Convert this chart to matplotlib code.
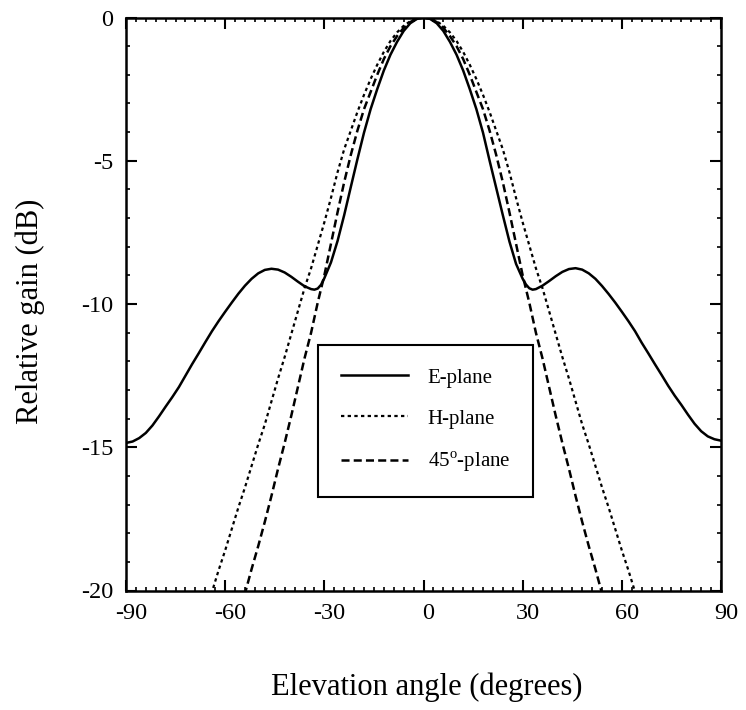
import matplotlib
matplotlib.use("Agg")
import matplotlib.pyplot as plt
import matplotlib.transforms as mtransforms
from matplotlib.ticker import MultipleLocator

plt.rcParams['font.family'] = ['Liberation Serif', 'DejaVu Serif']
plt.rcParams['mathtext.fontset'] = 'custom'
plt.rcParams['mathtext.rm'] = 'Liberation Serif'
plt.rcParams['axes.unicode_minus'] = False
plt.rcParams['lines.scale_dashes'] = False

# ---- data ----
e_angle = [-90, -88, -86, -84, -82, -80, -78, -76, -74, -72, -70, -68, -66, -64, -62, -60,
           -58, -56, -54, -52, -50, -48, -46, -44, -42, -40, -38, -36, -34, -33, -32, -31,
           -30, -28, -26, -24, -22, -20, -18, -16, -14, -12, -10, -8, -6, -4, -2, 0,
           2, 4, 6, 8, 10, 12, 14, 16, 18, 20, 22, 24, 26, 28, 30, 31, 32, 33, 34, 36,
           38, 40, 42, 44, 46, 48, 50, 52, 54, 56, 58, 60, 62, 64, 66, 68, 70, 72, 74,
           76, 78, 80, 82, 84, 86, 88, 90]
e_gain = [-14.85, -14.80, -14.68, -14.50, -14.24, -13.92, -13.58, -13.25, -12.90, -12.50,
          -12.10, -11.72, -11.33, -10.95, -10.60, -10.27, -9.95, -9.64, -9.36, -9.12,
          -8.93, -8.81, -8.77, -8.80, -8.90, -9.05, -9.22, -9.38, -9.48, -9.50, -9.46,
          -9.33, -9.10, -8.55, -7.80, -6.90, -5.92, -4.95, -4.02, -3.20, -2.50, -1.85,
          -1.30, -0.85, -0.47, -0.20, -0.05, 0.0,
          -0.05, -0.20, -0.47, -0.85, -1.30, -1.85, -2.50, -3.20, -4.02, -5.00, -5.95,
          -6.90, -7.82, -8.60, -9.12, -9.32, -9.45, -9.50, -9.48, -9.36, -9.20, -9.03,
          -8.88, -8.78, -8.75, -8.80, -8.93, -9.12, -9.37, -9.65, -9.95, -10.27, -10.60,
          -10.95, -11.35, -11.72, -12.10, -12.47, -12.85, -13.20, -13.52, -13.86, -14.18,
          -14.44, -14.62, -14.72, -14.77]

h_angle = [-66, -64, -62, -60, -58, -56, -54, -52, -50, -48, -46, -44, -42, -40, -38, -36,
           -34, -32, -30, -28, -26, -24, -22, -20, -18, -16, -14, -12, -10, -8, -6, -4,
           -2, 0, 2, 4, 6, 8, 10, 12, 14, 16, 18, 20, 22, 24, 26, 28, 30, 32, 34, 36,
           38, 40, 42, 44, 46, 48, 50, 52, 54, 56, 58, 60, 62, 64, 66]
h_gain = [-20.80, -20.05, -19.30, -18.60, -17.85, -17.10, -16.40, -15.65, -14.90, -14.20,
          -13.40, -12.60, -11.85, -11.05, -10.25, -9.45, -8.75, -7.95, -7.15, -6.30,
          -5.40, -4.60, -3.95, -3.30, -2.70, -2.15, -1.65, -1.20, -0.82, -0.52, -0.29,
          -0.13, -0.03, 0.0, -0.03, -0.13, -0.29, -0.52, -0.82, -1.20, -1.65, -2.15,
          -2.70, -3.30, -3.95, -4.60, -5.40, -6.30, -7.15, -7.95, -8.75, -9.45, -10.25,
          -11.05, -11.85, -12.60, -13.40, -14.20, -14.90, -15.65, -16.40, -17.10, -17.85,
          -18.60, -19.30, -20.05, -20.80]

d_angle = [-56, -54, -52, -50, -48, -46, -44, -42, -40, -38, -36, -34, -32, -30, -28, -26,
           -24, -22, -20, -18, -16, -14, -12, -10, -8, -6, -4, -2, 0, 2, 4, 6, 8, 10, 12,
           14, 16, 18, 20, 22, 24, 26, 28, 30, 32, 34, 36, 38, 40, 42, 44, 46, 48, 50,
           52, 54, 56]
d_gain = [-21.00, -20.10, -19.25, -18.45, -17.60, -16.70, -15.75, -14.85, -13.90, -12.90,
          -11.90, -11.00, -9.95, -9.00, -7.90, -6.80, -5.75, -4.80, -3.95, -3.20, -2.60,
          -2.00, -1.45, -1.00, -0.65, -0.36, -0.16, -0.04, 0.0, -0.04, -0.16, -0.36,
          -0.65, -1.00, -1.45, -2.00, -2.60, -3.20, -3.95, -4.80, -5.75, -6.80, -7.90,
          -9.00, -9.95, -11.00, -11.90, -12.90, -13.90, -14.85, -15.75, -16.70, -17.60,
          -18.45, -19.25, -20.10, -21.00]

labels = ['E-plane', 'H-plane', r'45$^{\rm o}$-plane']
x_ticks = [-90, -60, -30, 0, 30, 60, 90]
y_ticks = [0, -5, -10, -15, -20]

# ---- figure ----
fig = plt.figure(figsize=(7.46, 7.10), dpi=100)
ax = fig.add_axes([126 / 746, (710 - 590.5) / 710, 595 / 746, 573 / 710])

ax.plot(e_angle, e_gain, color='black', lw=1.8, ls='-', label=labels[0])
ax.plot(h_angle, h_gain, color='black', lw=1.6, ls=(0, (2.4, 2.4)), label=labels[1])
ax.plot(d_angle, d_gain, color='black', lw=1.8, ls=(0, (5.8, 3.0)), label=labels[2])

ax.set_xlim(-90, 90)
ax.set_ylim(-20, 0)
ax.set_xticks(x_ticks)
ax.set_yticks(y_ticks)
ax.set_xticklabels([str(v) for v in x_ticks])
ax.set_yticklabels([str(v) for v in y_ticks])
ax.xaxis.set_minor_locator(MultipleLocator(3))
ax.yaxis.set_minor_locator(MultipleLocator(1))

ax.tick_params(which='both', direction='in', top=True, right=True, color='black')
ax.tick_params(which='major', length=8, width=1.5)
ax.tick_params(which='minor', length=3, width=1.2)
ax.tick_params(axis='x', which='major', labelsize=17.5, pad=9)
ax.tick_params(axis='y', which='major', labelsize=17.5, pad=9)

for sp in ax.spines.values():
    sp.set_linewidth(1.8)
    sp.set_color('black')

offset = mtransforms.ScaledTranslation(5 / 100, 0, fig.dpi_scale_trans)
for lab in ax.get_xticklabels():
    lab.set_transform(lab.get_transform() + offset)

fig.text(427 / 746, (710 - 687) / 710, 'Elevation angle (degrees)', fontsize=22,
         ha='center', va='center')
fig.text(30 / 746, (710 - 311) / 710, 'Relative gain (dB)', fontsize=22,
         ha='center', va='center', rotation=90)

leg = ax.legend(loc='upper left', bbox_to_anchor=((318.3 - 126) / 595, (590.5 - 345) / 573),
                borderaxespad=0, fontsize=15, handlelength=3.2, handletextpad=0.95,
                borderpad=1.1, labelspacing=1.03, fancybox=False, framealpha=1,
                edgecolor='black')
leg.get_frame().set_linewidth(1.5)

fig.savefig('out.png', dpi=100)
